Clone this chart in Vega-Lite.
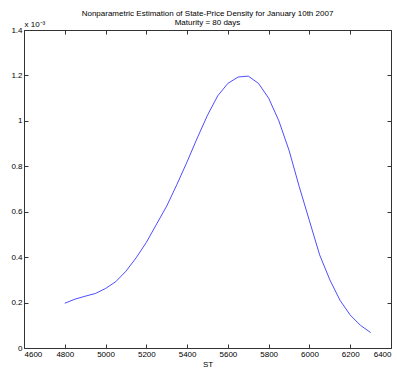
{
  "$schema": "https://vega.github.io/schema/vega-lite/v6.json",
  "width": 367,
  "height": 318,
  "autosize": {"type": "none"},
  "padding": {"left": 24, "top": 30, "right": 6, "bottom": 22},
  "background": "white",
  "title": {
    "text": "Nonparametric Estimation of State-Price Density for January 10th 2007",
    "subtitle": "Maturity = 80 days",
    "font": "Liberation Sans",
    "fontSize": 8,
    "fontWeight": "normal",
    "color": "#000",
    "subtitleFont": "Liberation Sans",
    "subtitleFontSize": 8,
    "subtitleColor": "#000",
    "subtitlePadding": 1,
    "offset": -7,
    "anchor": "middle",
    "frame": "group"
  },
  "config": {
    "view": {"stroke": null},
    "axis": {
      "grid": false,
      "domainColor": "#333",
      "tickColor": "#333",
      "labelFont": "Liberation Sans",
      "labelFontSize": 8,
      "labelColor": "#000",
      "titleFont": "Liberation Sans",
      "titleFontSize": 8,
      "titleFontWeight": "normal",
      "titleColor": "#000",
      "tickSize": -4,
      "labelPadding": 6
    }
  },
  "data": {
    "values": [
      {"ST": 4800, "density": 0.000197},
      {"ST": 4850, "density": 0.000215},
      {"ST": 4900, "density": 0.000228},
      {"ST": 4950, "density": 0.000240},
      {"ST": 5000, "density": 0.000262},
      {"ST": 5050, "density": 0.000292},
      {"ST": 5100, "density": 0.000338},
      {"ST": 5150, "density": 0.000397},
      {"ST": 5200, "density": 0.000465},
      {"ST": 5250, "density": 0.000545},
      {"ST": 5300, "density": 0.000625},
      {"ST": 5350, "density": 0.000720},
      {"ST": 5400, "density": 0.000820},
      {"ST": 5450, "density": 0.000925},
      {"ST": 5500, "density": 0.001025},
      {"ST": 5550, "density": 0.001110},
      {"ST": 5600, "density": 0.001165},
      {"ST": 5650, "density": 0.001193},
      {"ST": 5700, "density": 0.001197},
      {"ST": 5750, "density": 0.001165},
      {"ST": 5800, "density": 0.001100},
      {"ST": 5850, "density": 0.001000},
      {"ST": 5900, "density": 0.000870},
      {"ST": 5950, "density": 0.000710},
      {"ST": 6000, "density": 0.000560},
      {"ST": 6050, "density": 0.000410},
      {"ST": 6100, "density": 0.000300},
      {"ST": 6150, "density": 0.000210},
      {"ST": 6200, "density": 0.000145},
      {"ST": 6250, "density": 0.000100},
      {"ST": 6300, "density": 0.000068}
    ]
  },
  "layer": [
    {
      "mark": {"type": "line", "color": "#0000ff", "strokeWidth": 0.7},
      "encoding": {
        "x": {
          "field": "ST", "type": "quantitative",
          "scale": {"domain": [4600, 6400], "nice": false, "zero": false},
          "axis": {"orient": "bottom", "title": "ST", "values": [4600, 4800, 5000, 5200, 5400, 5600, 5800, 6000, 6200, 6400], "format": "d", "titlePadding": 2}
        },
        "y": {
          "field": "density", "type": "quantitative",
          "scale": {"domain": [0, 0.0014], "nice": false},
          "axis": {"orient": "left", "title": "x 10⁻³", "titleAngle": 0, "titleAlign": "left", "titleBaseline": "bottom", "titleX": 0, "titleY": -2,
                   "values": [0, 0.0002, 0.0004, 0.0006, 0.0008, 0.001, 0.0012, 0.0014],
                   "labelExpr": "format(datum.value*1000, '.1~f')"}
        }
      }
    },
    {
      "mark": {"type": "line", "opacity": 0},
      "encoding": {
        "x": {
          "field": "ST", "type": "quantitative",
          "scale": {"domain": [4600, 6400], "nice": false, "zero": false},
          "axis": {"orient": "top", "title": null, "labels": false, "values": [4600, 4800, 5000, 5200, 5400, 5600, 5800, 6000, 6200, 6400]}
        },
        "y": {
          "field": "density", "type": "quantitative",
          "scale": {"domain": [0, 0.0014], "nice": false},
          "axis": {"orient": "right", "title": null, "labels": false, "values": [0, 0.0002, 0.0004, 0.0006, 0.0008, 0.001, 0.0012, 0.0014]}
        }
      }
    }
  ],
  "resolve": {"axis": {"x": "independent", "y": "independent"}}
}
